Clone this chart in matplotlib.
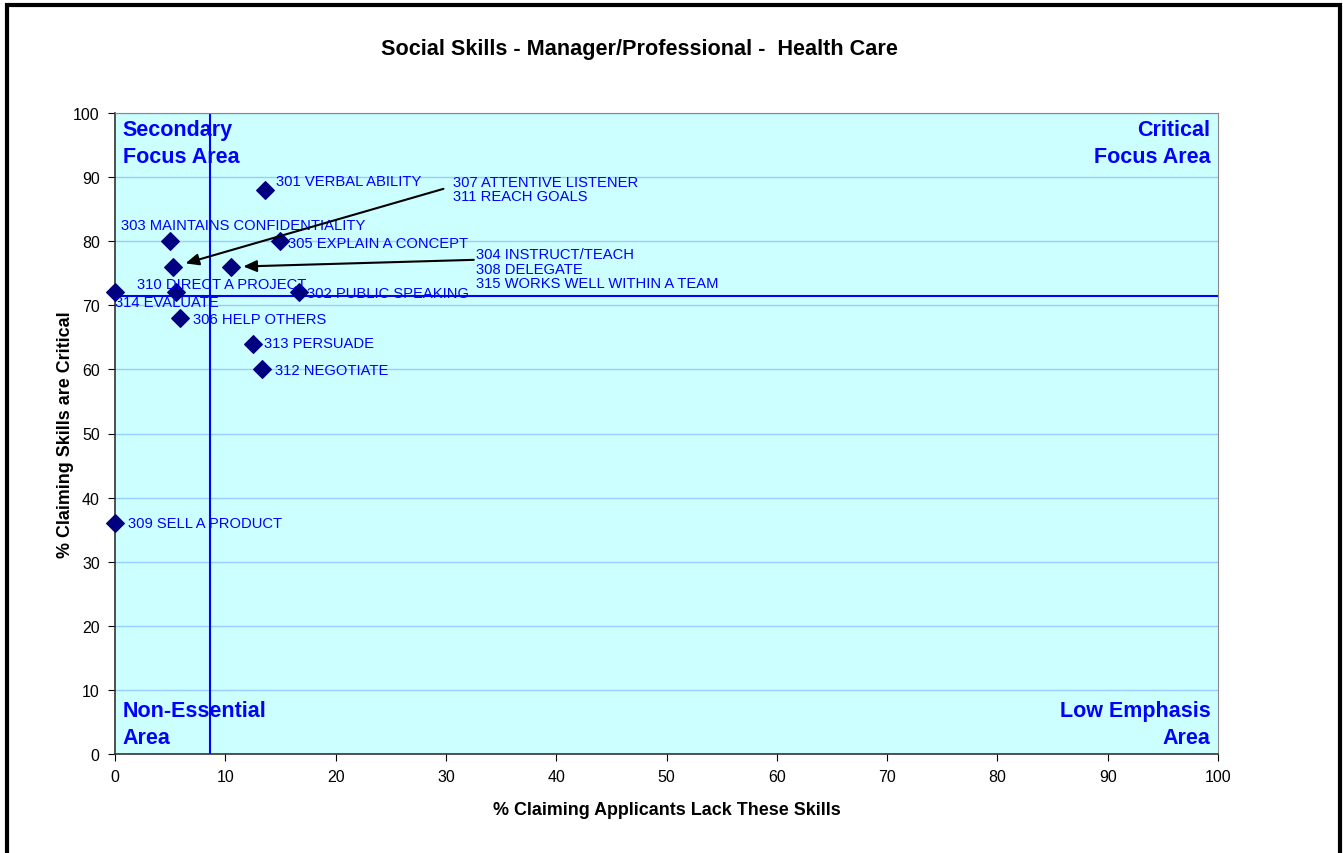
import matplotlib.pyplot as plt
import numpy as np
from matplotlib.patches import Rectangle

plt.rcParams['font.family'] = ['Liberation Sans', 'DejaVu Sans']

# skill data: % lacking (x), % critical (y)
labels = ['301 VERBAL ABILITY', '302 PUBLIC SPEAKING', '303 MAINTAINS CONFIDENTIALITY',
          '305 EXPLAIN A CONCEPT', '306 HELP OTHERS', '309 SELL A PRODUCT',
          '310 DIRECT A PROJECT', '312 NEGOTIATE', '313 PERSUADE', '314 EVALUATE']
lack = [13.6, 16.7, 5.0, 15.0, 5.9, 0.0, 5.5, 13.3, 12.5, 0.0]
critical = [88, 72, 80, 80, 68, 36, 72, 60, 64, 72]

# skills sharing one marker, labelled with an arrow
group_labels = ['307 ATTENTIVE LISTENER\n311 REACH GOALS',
                '304 INSTRUCT/TEACH\n308 DELEGATE\n315 WORKS WELL WITHIN A TEAM']
group_lack = [5.3, 10.5]
group_critical = [76, 76]
group_size = [2, 3]

# label offsets in pixels
label_offsets = [(11, 9), (8, -1), (-49, 16), (8, -2), (13, -1), (13, 0),
                 (-39, 8), (13, -1), (11, 1), (0, -10)]
group_text_offsets = [(280, 78), (245, -2)]
arrow_tail_offsets = [(270, 78), (243, 7)]

all_x = lack + [v for v, n in zip(group_lack, group_size) for _ in range(n)]
all_y = critical + [v for v, n in zip(group_critical, group_size) for _ in range(n)]
mean_x = np.mean(all_x)
mean_y = np.mean(all_y)

fig = plt.figure(figsize=(13.43, 8.54), dpi=100)
ax = fig.add_axes([115 / 1343, 99 / 854, 1103 / 1343, 641 / 854])
ax.set_facecolor('#CCFFFF')

ax.set_xlim(0, 100)
ax.set_ylim(0, 100)
ax.set_xticks(np.arange(0, 101, 10))
ax.set_yticks(np.arange(0, 101, 10))
ax.grid(axis='y', color='#99CCFF', lw=1)
ax.set_axisbelow(True)
ax.tick_params(direction='out', length=5, labelsize=11.5, pad=6)
for s in ['left', 'bottom']:
    ax.spines[s].set_color('#333333')
    ax.spines[s].set_linewidth(1.2)
for s in ['top', 'right']:
    ax.spines[s].set_color('#888888')

ax.axvline(mean_x, color='#0000FF', lw=1.5)
ax.axhline(mean_y, color='#0000FF', lw=1.5)

ax.scatter(lack + group_lack, critical + group_critical, marker='D', s=80,
           color='#000080', zorder=5, clip_on=False)

for lab, x, y, off in zip(labels, lack, critical, label_offsets):
    ax.annotate(lab, (x, y), xytext=off, textcoords='offset pixels',
                ha='left', va='center', fontsize=10.6, color='#0000FF', zorder=6)

for lab, x, y, toff, aoff in zip(group_labels, group_lack, group_critical,
                                 group_text_offsets, arrow_tail_offsets):
    ax.annotate(lab, (x, y), xytext=toff, textcoords='offset pixels',
                ha='left', va='center', fontsize=10.6, color='#0000FF',
                linespacing=1.05, zorder=6)
    ax.annotate('', (x, y), xytext=aoff, textcoords='offset pixels',
                arrowprops=dict(arrowstyle='-|>,head_length=0.8,head_width=0.35',
                                color='black', lw=1.5, shrinkA=0, shrinkB=9),
                zorder=6)

qkw = dict(fontsize=15.5, fontweight='bold', color='#0000FF', linespacing=1.38,
           transform=ax.transAxes)
ax.text(0.007, 0.991, 'Secondary\nFocus Area', ha='left', va='top', **qkw)
ax.text(0.993, 0.991, 'Critical\nFocus Area', ha='right', va='top', **qkw)
ax.text(0.007, 0.010, 'Non-Essential\nArea', ha='left', va='bottom', **qkw)
ax.text(0.993, 0.010, 'Low Emphasis\nArea', ha='right', va='bottom', **qkw)

ax.set_xlabel('% Claiming Applicants Lack These Skills', fontsize=12.9,
              fontweight='bold', labelpad=12)
ax.set_ylabel('% Claiming Skills are Critical', fontsize=12.9,
              fontweight='bold', labelpad=-1)

fig.text(639 / 1343, 1 - 49 / 854, 'Social Skills - Manager/Professional -  Health Care',
         ha='center', va='center', fontsize=15.6, fontweight='bold')

fig.patches.append(Rectangle((7 / 1343, -0.1), 1333 / 1343, 1.1 - 6 / 854,
                             transform=fig.transFigure, fill=False,
                             edgecolor='black', lw=3))

fig.savefig('out.png', dpi=100)
